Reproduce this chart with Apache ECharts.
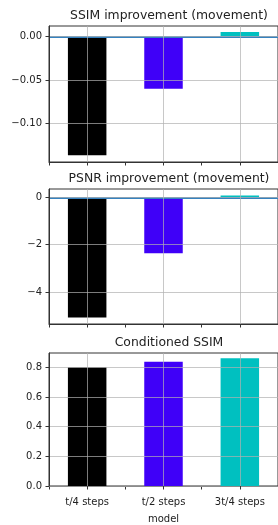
<!DOCTYPE html>
<html><head><meta charset="utf-8">
<script src="https://cdn.jsdelivr.net/npm/echarts@6/dist/echarts.min.js"></script>
<style>html,body{margin:0;padding:0;background:#fff}#c{width:278px;height:525px}</style>
</head><body><div id="c"></div>
<script>
const categories = ['t/4 steps', 't/2 steps', '3t/4 steps'];
const barColors = ['#000000', '#3f00f8', '#00c0c0'];
const titles = ['SSIM improvement (movement)', 'PSNR improvement (movement)', 'Conditioned SSIM'];
const ssimImprovement = [-0.137, -0.060, 0.0055];
const psnrImprovement = [-5.08, -2.36, 0.085];
const conditionedSsim = [0.80, 0.837, 0.86];
const ssimTicks = [-0.10, -0.05, 0.00];
const psnrTicks = [-4, -2, 0];
const condTicks = [0.0, 0.2, 0.4, 0.6, 0.8];
const xLabel = 'model';

const FONT = 'DejaVu Sans';
const catPos = categories.map((c, k) => k);
const halfTicks = [];
for (let k = 0; k <= categories.length; k++) halfTicks.push(k - 0.5);

const panels = [
  {vals: ssimImprovement, ticks: ssimTicks, min: -0.1447, max: 0.0124, fmt: v => (v < 0 ? '\u2212' : '') + Math.abs(v).toFixed(2), zero: true, top: 26, height: 136, titleTop: 5},
  {vals: psnrImprovement, ticks: psnrTicks, min: -5.35, max: 0.356, fmt: v => (v < 0 ? '\u2212' : '') + Math.abs(Math.round(v)), zero: true, top: 189, height: 135, titleTop: 168},
  {vals: conditionedSsim, ticks: condTicks, min: 0, max: 0.896, fmt: v => v.toFixed(1), zero: false, top: 353, height: 135, titleTop: 332}
];

const option = {animation: false, title: [], grid: [], xAxis: [], yAxis: [], series: []};
const gridColor = 'rgba(176,176,176,0.7)';
const axisColor = '#333';
const xMin = -0.5, xMax = categories.length - 0.5;

panels.forEach((p, i) => {
  option.title.push({text: titles[i], left: 164, top: p.titleTop, textAlign: 'center',
    textStyle: {fontFamily: FONT, fontSize: 12.4, fontWeight: 'normal', color: '#222'}});
  option.grid.push({left: 49, width: 231, top: p.top, height: p.height, show: true,
    borderColor: axisColor, borderWidth: 1, backgroundColor: 'transparent'});
  const last = i === panels.length - 1;
  // half-step ticks axis (boundaries)
  option.xAxis.push({type: 'value', gridIndex: i, min: xMin, max: xMax, position: 'bottom',
    axisLine: {show: true, onZero: false, lineStyle: {color: axisColor}},
    axisTick: {show: true, length: 3.5, lineStyle: {color: axisColor}, customValues: halfTicks},
    axisLabel: {show: false, customValues: halfTicks}, splitLine: {show: false}});
  // category-centre axis with labels and gridlines (drawn above bars)
  option.xAxis.push({type: 'value', gridIndex: i, min: xMin, max: xMax, position: 'bottom', zlevel: 1,
    axisLine: {show: false, onZero: false},
    axisTick: {show: true, length: 3.5, lineStyle: {color: axisColor}, customValues: catPos},
    axisLabel: {show: last, fontFamily: FONT, fontSize: 10, color: '#222', margin: 11, customValues: catPos,
      formatter: v => categories[Math.round(v)] || ''},
    splitLine: {show: true, lineStyle: {color: gridColor, width: 1}},
    name: last ? xLabel : '', nameLocation: 'middle', nameGap: 28,
    nameTextStyle: {fontFamily: FONT, fontSize: 10, color: '#222'}});
  option.yAxis.push({type: 'value', gridIndex: i, min: p.min, max: p.max, zlevel: 1,
    axisLine: {show: true, onZero: false, lineStyle: {color: axisColor}},
    axisTick: {show: true, length: 3.5, lineStyle: {color: axisColor}, customValues: p.ticks},
    axisLabel: {fontFamily: FONT, fontSize: 10, color: '#222', margin: 7, customValues: p.ticks, formatter: p.fmt},
    splitLine: {show: true, lineStyle: {color: gridColor, width: 1}}});
  option.series.push({type: 'bar', xAxisIndex: 2 * i + 1, yAxisIndex: i, barWidth: 38.5,
    data: p.vals.map((v, k) => ({value: [catPos[k], v], itemStyle: {color: barColors[k]}}))});
  if (p.zero) {
    option.series.push({type: 'line', xAxisIndex: 2 * i + 1, yAxisIndex: i, zlevel: 2, data: [],
      markLine: {silent: true, symbol: 'none', label: {show: false},
        lineStyle: {color: '#3582c0', width: 2, type: 'solid'}, data: [{yAxis: 0}]}});
  }
});

const chart = echarts.init(document.getElementById('c'), null, {renderer: 'canvas'});
chart.setOption(option);
</script>
</body></html>
